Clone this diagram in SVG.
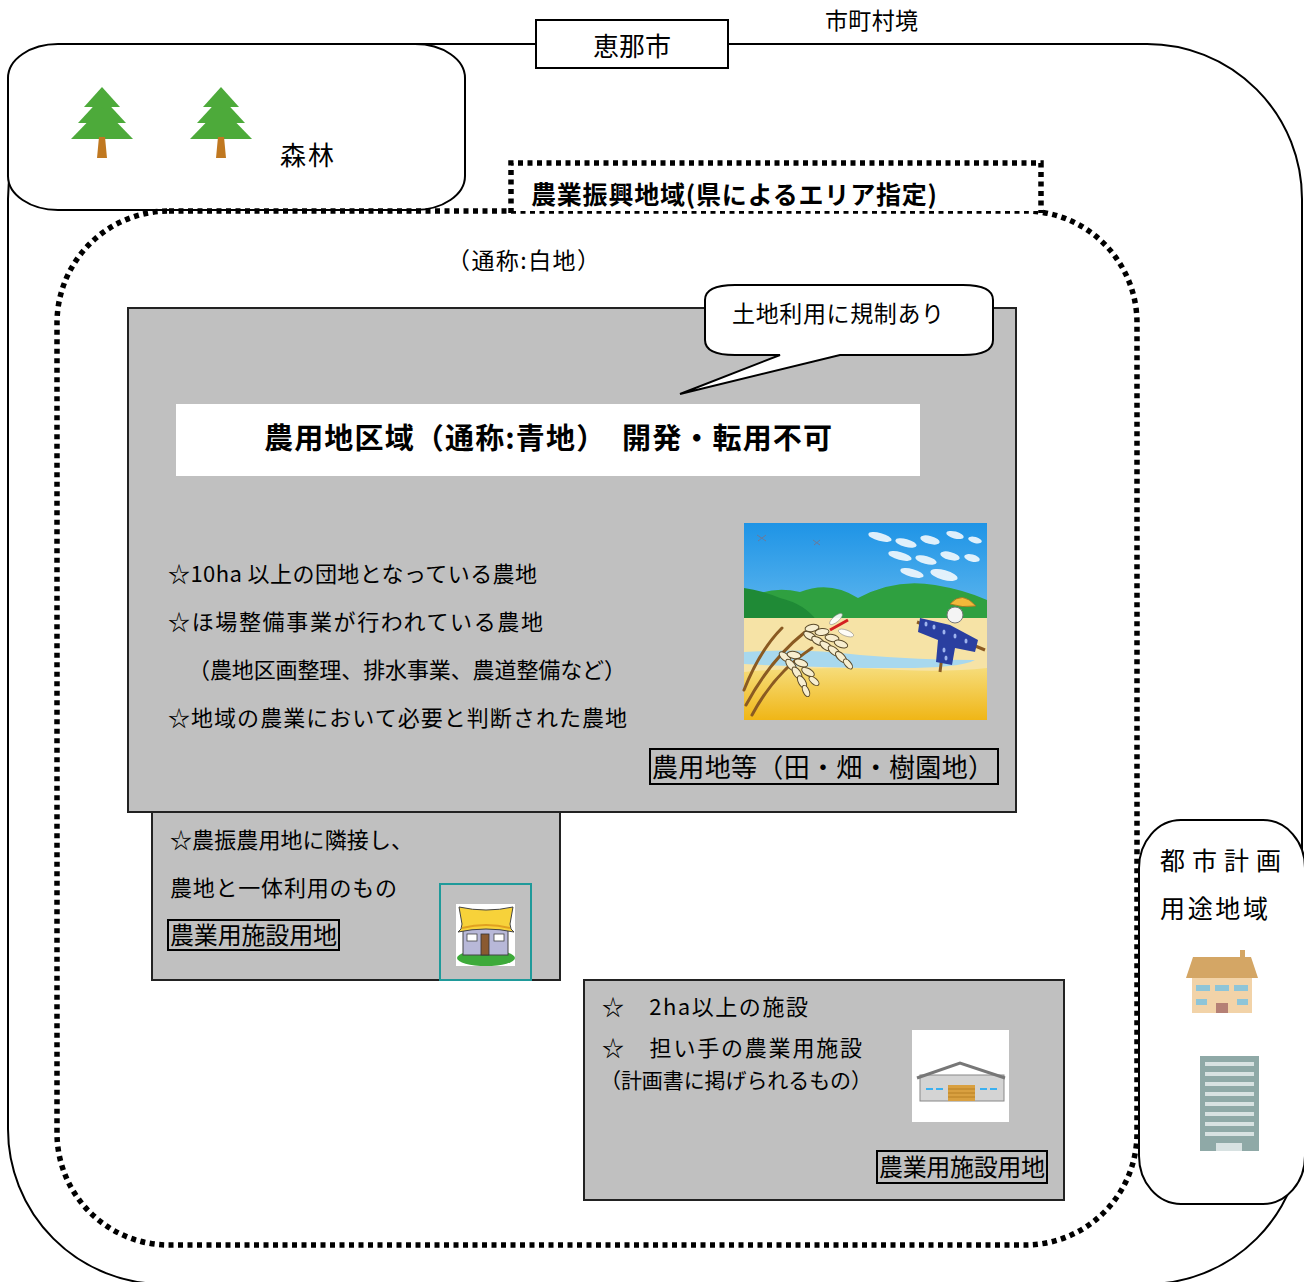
<svg xmlns="http://www.w3.org/2000/svg" width="1304" height="1282" viewBox="0 0 1304 1282">
  <defs>
    <style>
      .t { font-family: "Noto Sans CJK JP", "Noto Sans", sans-serif; fill: #000; }
      .b { font-weight: bold; }
      .line { fill: none; stroke: #000; stroke-width: 2; }
      .dots { fill: none; stroke: #000; stroke-width: 5.5; stroke-dasharray: 5 4.5; }
      .panel { fill: #c0c0c0; stroke: #222; stroke-width: 2; }
      .tag { fill: none; stroke: #000; stroke-width: 2; }
      .leaf { fill: #4daa3a; }
      .trunk { fill: #c07820; }
    </style>
    <linearGradient id="sky" x1="0" y1="0" x2="0" y2="1">
      <stop offset="0" stop-color="#1e94e6"/>
      <stop offset="1" stop-color="#a6dcf6"/>
    </linearGradient>
    <linearGradient id="gold" x1="0" y1="0" x2="0" y2="1">
      <stop offset="0" stop-color="#f6dc7a"/>
      <stop offset="1" stop-color="#f0b616"/>
    </linearGradient>
    <g id="tree">
      <polygon class="leaf" points="0,0 18,20 -18,20"/>
      <polygon class="leaf" points="0,10 24,36 -24,36"/>
      <polygon class="leaf" points="0,20 31,52 -31,52"/>
      <polygon class="trunk" points="-3,50 3,50 5,71 -5,71"/>
    </g>
  </defs>

  <rect width="1304" height="1282" fill="#fff"/>

  <!-- municipal boundary -->
  <g id="boundary">
    <rect class="line" x="8" y="44" width="1294" height="1240" rx="155" ry="155"/>
  </g>

  <!-- forest area -->
  <g id="forest">
    <rect x="8" y="44" width="457" height="166" rx="50" ry="34" fill="#fff" stroke="#000" stroke-width="2"/>
    <use href="#tree" x="102" y="87"/>
    <use href="#tree" x="221" y="87"/>
    <text class="t" x="280" y="165" font-size="26" textLength="54">森林</text>
  </g>

  <!-- city name -->
  <g id="city-name">
    <rect x="536" y="20" width="192" height="48" fill="#fff" stroke="#000" stroke-width="2"/>
    <text class="t" x="632" y="56" font-size="26" text-anchor="middle">恵那市</text>
  </g>
  <text class="t" x="825" y="29" font-size="23" textLength="93">市町村境</text>

  <!-- agricultural promotion region -->
  <g id="promotion-area">
    <rect class="dots" x="57" y="211" width="1080" height="1034" rx="112" ry="112"/>
    <rect x="511" y="163" width="530" height="48" fill="#fff"/>
    <path class="dots" d="M511,213 V163 H1041 V213"/>
    <text class="t b" x="531" y="204" font-size="25" textLength="406">農業振興地域(県によるエリア指定)</text>
    <text class="t" x="447" y="269" font-size="23" textLength="153">（通称:白地）</text>
  </g>

  <!-- agricultural land zone -->
  <g id="farmland-zone">
    <rect class="panel" x="128" y="308" width="888" height="504"/>
    <rect x="176" y="404" width="744" height="72" fill="#fff"/>
    <text class="t b" x="264" y="449" font-size="29" textLength="568">農用地区域（通称:青地）　開発・転用不可</text>
    <text class="t" x="168" y="582" font-size="22" textLength="369">☆10ha 以上の団地となっている農地</text>
    <text class="t" x="168" y="630" font-size="22" textLength="375">☆ほ場整備事業が行われている農地</text>
    <text class="t" x="188" y="678" font-size="22" textLength="438">（農地区画整理、排水事業、農道整備など）</text>
    <text class="t" x="168" y="726" font-size="22" textLength="459">☆地域の農業において必要と判断された農地</text>
    <rect class="tag" x="650" y="749" width="348" height="35"/>
    <text class="t" x="652" y="777" font-size="26" textLength="342">農用地等（田・畑・樹園地）</text>

    <!-- rural scene -->
    <g id="rural-scene">
      <rect x="744" y="523" width="243" height="197" fill="url(#sky)"/>
      <g fill="#fff" opacity="0.85">
        <ellipse cx="880" cy="537" rx="12" ry="4" transform="rotate(15 880 537)"/>
        <ellipse cx="906" cy="543" rx="11" ry="4" transform="rotate(15 906 543)"/>
        <ellipse cx="930" cy="540" rx="10" ry="4" transform="rotate(15 930 540)"/>
        <ellipse cx="955" cy="535" rx="9" ry="3.5" transform="rotate(15 955 535)"/>
        <ellipse cx="975" cy="540" rx="7" ry="3" transform="rotate(15 975 540)"/>
        <ellipse cx="900" cy="556" rx="12" ry="4" transform="rotate(15 900 556)"/>
        <ellipse cx="926" cy="560" rx="11" ry="4" transform="rotate(15 926 560)"/>
        <ellipse cx="950" cy="556" rx="10" ry="4" transform="rotate(15 950 556)"/>
        <ellipse cx="972" cy="558" rx="8" ry="3.5" transform="rotate(15 972 558)"/>
        <ellipse cx="912" cy="573" rx="12" ry="4" transform="rotate(15 912 573)"/>
        <ellipse cx="944" cy="575" rx="14" ry="5" transform="rotate(15 944 575)"/>
      </g>
      <path d="M744,600 Q770,585 800,592 Q830,580 858,598 Q895,578 935,585 Q965,590 987,600 V625 H744 Z" fill="#2fa040"/>
      <path d="M744,588 Q760,590 780,598 Q805,604 817,621 H744 Z" fill="#1f8a36"/>
      <path d="M744,618 H987 V720 H744 Z" fill="#f6e3a6"/>
      <path d="M744,652 Q800,648 860,655 Q920,660 975,660 Q960,668 900,668 Q820,668 744,664 Z" fill="#a8d8ee"/>
      <path d="M744,672 Q820,665 900,670 Q950,672 987,668 V720 H744 Z" fill="url(#gold)"/>
      <!-- rice stalks -->
      <g fill="none" stroke="#8a5a22" stroke-width="3" stroke-linecap="round">
        <path d="M746,705 Q770,660 805,632"/>
        <path d="M752,715 Q775,672 812,648"/>
        <path d="M744,690 Q760,650 782,628"/>
      </g>
      <g fill="#f7eed0" stroke="#5a4a2a" stroke-width="1">
        <ellipse cx="810" cy="636" rx="7" ry="3.5" transform="rotate(30 810 636)"/>
        <ellipse cx="818" cy="641" rx="7" ry="3.5" transform="rotate(30 818 641)"/>
        <ellipse cx="826" cy="646" rx="7" ry="3.5" transform="rotate(35 826 646)"/>
        <ellipse cx="834" cy="651" rx="7" ry="3.5" transform="rotate(40 834 651)"/>
        <ellipse cx="841" cy="657" rx="7" ry="3.5" transform="rotate(45 841 657)"/>
        <ellipse cx="848" cy="664" rx="6" ry="3" transform="rotate(50 848 664)"/>
        <ellipse cx="812" cy="628" rx="7" ry="3.5" transform="rotate(-10 812 628)"/>
        <ellipse cx="822" cy="632" rx="7" ry="3.5" transform="rotate(-5 822 632)"/>
        <ellipse cx="832" cy="638" rx="7" ry="3.5" transform="rotate(10 832 638)"/>
        <ellipse cx="841" cy="644" rx="7" ry="3.5" transform="rotate(20 841 644)"/>
        <ellipse cx="785" cy="657" rx="7" ry="3.5" transform="rotate(40 785 657)"/>
        <ellipse cx="791" cy="665" rx="7" ry="3.5" transform="rotate(50 791 665)"/>
        <ellipse cx="797" cy="673" rx="7" ry="3.5" transform="rotate(55 797 673)"/>
        <ellipse cx="802" cy="682" rx="7" ry="3.5" transform="rotate(60 802 682)"/>
        <ellipse cx="806" cy="691" rx="6" ry="3" transform="rotate(65 806 691)"/>
        <ellipse cx="794" cy="655" rx="7" ry="3.5" transform="rotate(10 794 655)"/>
        <ellipse cx="801" cy="663" rx="7" ry="3.5" transform="rotate(20 801 663)"/>
        <ellipse cx="808" cy="672" rx="7" ry="3.5" transform="rotate(30 808 672)"/>
        <ellipse cx="814" cy="681" rx="6" ry="3" transform="rotate(40 814 681)"/>
      </g>
      <!-- dragonflies -->
      <path d="M830,630 L848,620" stroke="#d42020" stroke-width="3"/>
      <g fill="#fff" stroke="#888" stroke-width="0.6" opacity="0.9">
        <ellipse cx="836" cy="619" rx="8" ry="3" transform="rotate(-40 836 619)"/>
        <ellipse cx="846" cy="633" rx="8" ry="3" transform="rotate(20 846 633)"/>
      </g>
      <g stroke="#6a7a9a" stroke-width="1">
        <path d="M757,535 L766,541 M758,541 L766,535"/>
        <path d="M813,540 L820,545 M814,545 L820,540"/>
      </g>
      <!-- scarecrow -->
      <line x1="940" y1="672" x2="944" y2="640" stroke="#8a5a22" stroke-width="3"/>
      <line x1="917" y1="622" x2="985" y2="650" stroke="#8a5a22" stroke-width="3"/>
      <path d="M920,618 L950,625 L978,640 L975,652 L955,648 L952,665 L936,662 L938,640 L918,632 Z" fill="#2a3fa0"/>
      <g fill="#9fb4ee">
        <ellipse cx="926" cy="624" rx="1.5" ry="2.5"/><ellipse cx="934" cy="627" rx="1.5" ry="2.5"/>
        <ellipse cx="944" cy="632" rx="1.5" ry="2.5"/><ellipse cx="955" cy="636" rx="1.5" ry="2.5"/>
        <ellipse cx="966" cy="641" rx="1.5" ry="2.5"/><ellipse cx="944" cy="650" rx="1.5" ry="2.5"/>
        <ellipse cx="946" cy="658" rx="1.5" ry="2.5"/>
      </g>
      <circle cx="955" cy="615" r="8" fill="#f4f4f4" stroke="#777" stroke-width="1"/>
      <path d="M950,604 Q962,590 976,606 Q962,608 950,604 Z" fill="#f2b93a" stroke="#a07020" stroke-width="0.8"/>
    </g>

    <!-- speech bubble -->
    <g id="callout">
      <path d="M735,285 H963 Q993,285 993,300 V340 Q993,355 963,355 H840 L680,394 L780,355 H735 Q705,355 705,340 V300 Q705,285 735,285 Z" fill="#fff" stroke="#000" stroke-width="2"/>
      <text class="t" x="732" y="322" font-size="23" textLength="212">土地利用に規制あり</text>
    </g>
  </g>

  <!-- adjoining facility land -->
  <g id="adjacent-facility">
    <rect class="panel" x="152" y="812" width="408" height="168"/>
    <text class="t" x="170" y="848" font-size="22" textLength="243">☆農振農用地に隣接し、</text>
    <text class="t" x="170" y="896" font-size="22" textLength="227">農地と一体利用のもの</text>
    <rect class="tag" x="168" y="920" width="171" height="30"/>
    <text class="t" x="170" y="944" font-size="24" textLength="167">農業用施設用地</text>
    <rect x="440" y="884" width="91" height="96" fill="none" stroke="#1f9a9a" stroke-width="2"/>
    <g id="farmhouse">
      <rect x="456" y="904" width="59" height="62" fill="#fff"/>
      <ellipse cx="486" cy="958" rx="29" ry="8" fill="#3daa3a"/>
      <rect x="463" y="928" width="45" height="27" fill="#b8b8d8" stroke="#444" stroke-width="1"/>
      <rect x="467" y="934" width="10" height="7" fill="#fff" stroke="#444" stroke-width="0.8"/>
      <rect x="494" y="934" width="10" height="7" fill="#fff" stroke="#444" stroke-width="0.8"/>
      <rect x="481" y="934" width="8" height="21" fill="#8a5a30" stroke="#333" stroke-width="0.8"/>
      <path d="M459,907 Q486,913 513,907 L510,924 Q510,930 514,932 Q486,926 458,932 Q462,930 462,924 Z" fill="#f7d23a" stroke="#444" stroke-width="1"/>
      <path d="M462,928 Q486,922 510,928" fill="none" stroke="#e0a020" stroke-width="2"/>
    </g>
  </g>

  <!-- farming facility land -->
  <g id="facility-land">
    <rect class="panel" x="584" y="980" width="480" height="220"/>
    <text class="t" x="602" y="1015" font-size="22" textLength="206">☆　2ha以上の施設</text>
    <text class="t" x="602" y="1056" font-size="22" textLength="260">☆　担い手の農業用施設</text>
    <text class="t" x="600" y="1088" font-size="21" textLength="272">（計画書に掲げられるもの）</text>
    <g id="warehouse">
      <rect x="912" y="1030" width="97" height="92" fill="#fff"/>
      <rect x="920" y="1075" width="84" height="26" fill="#d4d4d4" stroke="#888" stroke-width="1"/>
      <polyline points="917,1078 960,1063 1005,1078" fill="none" stroke="#777" stroke-width="3"/>
      <rect x="948" y="1085" width="27" height="16" fill="#d9a040"/>
      <g stroke="#b07a20" stroke-width="0.8"><line x1="948" y1="1089" x2="975" y2="1089"/><line x1="948" y1="1093" x2="975" y2="1093"/><line x1="948" y1="1097" x2="975" y2="1097"/></g>
      <g stroke="#3ab0f0" stroke-width="2"><line x1="926" y1="1089" x2="933" y2="1089"/><line x1="936" y1="1089" x2="943" y2="1089"/><line x1="980" y1="1089" x2="987" y2="1089"/><line x1="990" y1="1089" x2="997" y2="1089"/></g>
    </g>
    <rect class="tag" x="877" y="1151" width="170" height="32"/>
    <text class="t" x="879" y="1176" font-size="24" textLength="166">農業用施設用地</text>
  </g>

  <!-- city planning use district -->
  <g id="urban-zone">
    <rect x="1139" y="820" width="166" height="384" rx="42" ry="48" fill="#fff" stroke="#000" stroke-width="2"/>
    <text class="t" x="1160" y="870" font-size="25" textLength="121">都市計画</text>
    <text class="t" x="1160" y="918" font-size="25" textLength="108">用途地域</text>
    <g id="town-house">
      <rect x="1240" y="950" width="5" height="9" fill="#d4a665"/>
      <polygon points="1193,957 1251,957 1258,978 1186,978" fill="#d4a665"/>
      <rect x="1192" y="978" width="60" height="35" fill="#f2d3a8"/>
      <g fill="#8ec5d8">
        <rect x="1196" y="985" width="14" height="6"/><rect x="1215" y="985" width="14" height="6"/><rect x="1234" y="985" width="14" height="6"/>
        <rect x="1196" y="999" width="11" height="6"/><rect x="1237" y="999" width="11" height="6"/>
      </g>
      <rect x="1216" y="1003" width="12" height="10" fill="#b58075"/>
    </g>
    <g id="office-tower">
      <rect x="1200" y="1056" width="59" height="95" fill="#8fa9a7"/>
      <g fill="#d8e2e2">
        <rect x="1205" y="1062" width="49" height="4"/><rect x="1205" y="1072" width="49" height="4"/>
        <rect x="1205" y="1082" width="49" height="4"/><rect x="1205" y="1092" width="49" height="4"/>
        <rect x="1205" y="1102" width="49" height="4"/><rect x="1205" y="1112" width="49" height="4"/>
        <rect x="1205" y="1122" width="49" height="4"/><rect x="1205" y="1132" width="49" height="4"/>
        <rect x="1216" y="1143" width="26" height="8"/>
      </g>
    </g>
  </g>
</svg>
